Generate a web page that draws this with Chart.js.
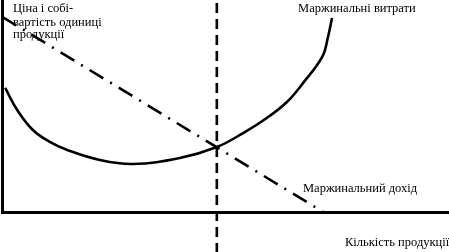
<!DOCTYPE html>
<html>
<head>
<meta charset="utf-8">
<script src="https://cdn.jsdelivr.net/npm/chart.js@4"></script>
<style>
  html, body { margin: 0; padding: 0; background: #fff; }
  #wrap { width: 449px; height: 252px; position: relative; }
</style>
</head>
<body>
<div id="wrap"><canvas id="canvas"></canvas></div>
<script>
// quantity (Q) / price (P) in arbitrary units
var mcQ = [0.06, 0.33, 0.68, 1.06, 1.45, 2.18, 2.92, 3.97, 4.8, 5.39, 5.92, 6.37, 6.73, 7.16, 7.29, 7.38]
var mcP = [5.86, 4.82, 3.88, 3.32, 2.94, 2.47, 2.28, 2.56, 3.08, 3.74, 4.45, 5.2, 6.09, 7.32, 8.26, 9.15]

var mrQ = [0, 7.2]
var mrP = [9.2, 0]

var qOpt = 4.8
var vlineP = [-1.9, 10]

var yTitle = ['Ціна і собі-', 'вартість одиниці', 'продукції']
var mcLabel = 'Маржинальні витрати'
var mrLabel = 'Маржинальний дохід'
var xTitle = 'Кількість продукції'

function pts(xs, ys) {
    return xs.map(function(x, i) { return {x: x, y: ys[i]} })
}

// text labels placed in data coords
var textPlugin = {
    id: 'texts',
    afterDatasetsDraw: function(chart) {
        var ctx = chart.ctx
        var xs = chart.scales.x, ys = chart.scales.y
        ctx.save()
        ctx.fillStyle = '#000'
        ctx.font = '12.5px "Liberation Serif", "DejaVu Serif", serif'
        ctx.textBaseline = 'alphabetic'
        var items = [
            [yTitle[0], 0.235, 9.44],
            [yTitle[1], 0.235, 8.8],
            [yTitle[2], 0.235, 8.2],
            [mcLabel, 6.62, 9.44],
            [mrLabel, 6.73, 0.96],
            [xTitle, 7.67, -1.58]
        ]
        items.forEach(function(t) {
            ctx.fillText(t[0], xs.getPixelForValue(t[1]), ys.getPixelForValue(t[2]))
        })
        ctx.restore()
    }
}

var ctx = document.getElementById('canvas').getContext('2d')
var config = {
    type: 'scatter',
    data: {
        datasets: [{
            label: 'MC',
            data: pts(mcQ, mcP),
            showLine: true,
            borderColor: '#000',
            borderWidth: 2.6,
            pointRadius: 0,
            tension: 0.4,
            fill: false
        }, {
            label: 'MR',
            data: pts(mrQ, mrP),
            showLine: true,
            borderColor: '#000',
            borderWidth: 2.6,
            borderDash: [16, 8, 2, 8],
            pointRadius: 0,
            fill: false
        }, {
            label: 'Q*',
            data: pts([qOpt, qOpt], vlineP),
            showLine: true,
            borderColor: '#000',
            borderWidth: 2.6,
            borderDash: [10, 6],
            pointRadius: 0,
            clip: false,
            fill: false
        }]
    },
    options: {
        responsive: true,
        maintainAspectRatio: false,
        animation: false,
        layout: { padding: { left: 2.5, right: 0, top: 0, bottom: 39.5 } },
        plugins: { legend: { display: false }, tooltip: { enabled: false } },
        scales: {
            x: {
                type: 'linear', min: 0, max: 10,
                ticks: { display: false },
                grid: { color: 'rgba(0,0,0,0)', drawTicks: false },
                border: { display: true, color: '#000', width: 3 }
            },
            y: {
                type: 'linear', min: 0, max: 10,
                ticks: { display: false },
                grid: { color: 'rgba(0,0,0,0)', drawTicks: false },
                border: { display: true, color: '#000', width: 3 }
            }
        }
    },
    plugins: [textPlugin]
}

var mychart = new Chart(ctx, config)
</script>
</body>
</html>
